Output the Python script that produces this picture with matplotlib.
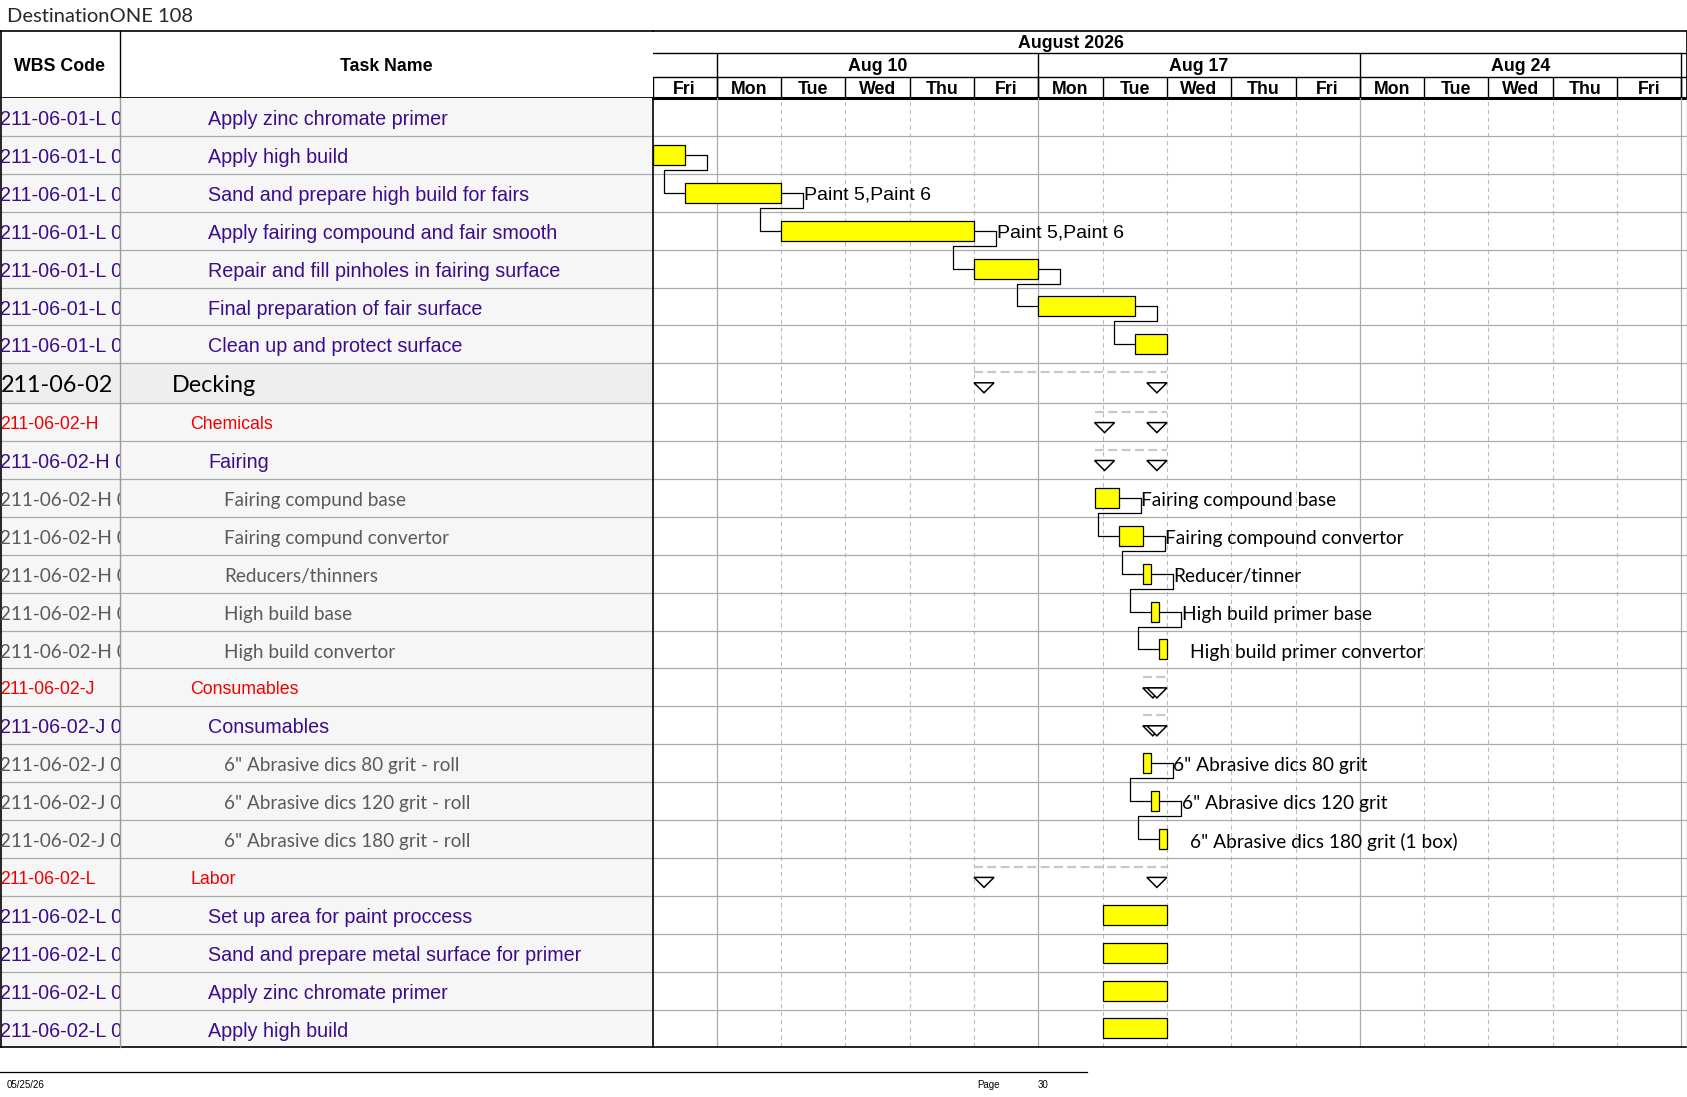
import matplotlib
matplotlib.use("Agg")
import matplotlib.pyplot as plt
from matplotlib.lines import Line2D

# ---- data -------------------------------------------------------------
title = "DestinationONE 108"
month_label = "August 2026"
month_span = (-4, 17)            # working days, Fri Aug 7 = day 0
week_labels = ["Aug 3", "Aug 10", "Aug 17", "Aug 24", "Aug 31"]
week_starts = [-4, 1, 6, 11, 16]
day_labels = ["Fri", "Mon", "Tue", "Wed", "Thu", "Fri", "Mon", "Tue", "Wed",
              "Thu", "Fri", "Mon", "Tue", "Wed", "Thu", "Fri", "Mon"]

wbs_codes = [
    "211-06-01-L 01", "211-06-01-L 02", "211-06-01-L 03", "211-06-01-L 04",
    "211-06-01-L 05", "211-06-01-L 06", "211-06-01-L 07",
    "211-06-02",
    "211-06-02-H", "211-06-02-H 01", "211-06-02-H 01.01", "211-06-02-H 01.02",
    "211-06-02-H 01.03", "211-06-02-H 01.04", "211-06-02-H 01.05",
    "211-06-02-J", "211-06-02-J 01", "211-06-02-J 01.01", "211-06-02-J 01.02",
    "211-06-02-J 01.03",
    "211-06-02-L", "211-06-02-L 01", "211-06-02-L 02", "211-06-02-L 03",
    "211-06-02-L 04",
]
task_names = [
    "Apply zinc chromate primer", "Apply high build",
    "Sand and prepare high build for fairs",
    "Apply fairing compound and fair smooth",
    "Repair and fill pinholes in fairing surface",
    "Final preparation of fair surface", "Clean up and protect surface",
    "Decking",
    "Chemicals", "Fairing", "Fairing compund base", "Fairing compund convertor",
    "Reducers/thinners", "High build base", "High build convertor",
    "Consumables", "Consumables", "6\" Abrasive dics 80 grit - roll",
    "6\" Abrasive dics 120 grit - roll", "6\" Abrasive dics 180 grit - roll",
    "Labor", "Set up area for paint proccess",
    "Sand and prepare metal surface for primer", "Apply zinc chromate primer",
    "Apply high build",
]
row_kind = ["task"] * 7 + ["top", "red", "task"] + ["leaf"] * 5 + \
    ["red", "task"] + ["leaf"] * 3 + ["red"] + ["task"] * 4

# start / finish in working days (None = nothing drawn in this window)
starts = [None, 0.0, 0.5, 2.0, 5.0, 6.0, 7.5,
          5.0, 6.875, 6.875, 6.875, 7.25, 7.625, 7.75, 7.875,
          7.625, 7.625, 7.625, 7.75, 7.875,
          5.0, 7.0, 7.0, 7.0, 7.0]
finishes = [None, 0.5, 2.0, 5.0, 6.0, 7.5, 8.0,
            8.0, 8.0, 8.0, 7.25, 7.625, 7.75, 7.875, 8.0,
            8.0, 8.0, 7.75, 7.875, 8.0,
            8.0, 8.0, 8.0, 8.0, 8.0]
summary_rows = [7, 8, 9, 15, 16, 20]
bar_labels = {
    2: "Paint 5,Paint 6", 3: "Paint 5,Paint 6",
    10: "Fairing compound base", 11: "Fairing compound convertor",
    12: "Reducer/tinner", 13: "High build primer base",
    14: "High build primer convertor",
    17: "6\" Abrasive dics 80 grit", 18: "6\" Abrasive dics 120 grit",
    19: "6\" Abrasive dics 180 grit (1 box)",
}
links = [(1, 2), (2, 3), (3, 4), (4, 5), (5, 6),
         (10, 11), (11, 12), (12, 13), (13, 14),
         (17, 18), (18, 19)]
footer_date = "05/25/26"
footer_page = "30"

# ---- layout (pixels) --------------------------------------------------
W, H = 1687, 1097
HDR_TOP, BODY_TOP = 31, 98
N = len(task_names)
row_h = [39.8 if k == "top" else 37.9 for k in row_kind]
row_top = [sum(row_h[:i]) for i in range(N)]
row_mid = [row_top[i] + row_h[i] / 2 for i in range(N)]
BODY_H = sum(row_h)
BODY_BOT = BODY_TOP + BODY_H
X_WBS, X_SPLIT, X_RIGHT = 120, 652.5, 1686.5
DAY_PX = 64.3
n_days = (X_RIGHT - X_SPLIT) / DAY_PX
TXT_DY = 2.6   # text sits a little below the cell centre

ARIAL = "Liberation Sans"
CALIBRI = "Lato"
PURPLE = "#3D0C8C"
GRID = "#ABABAB"

styles = {
    "task": dict(color=PURPLE, family=ARIAL, size=14.2, indent=208),
    "red": dict(color="#F00000", family=ARIAL, size=12.8, indent=190),
    "leaf": dict(color="#5A5A5A", family=CALIBRI, size=13.6, indent=224),
    "top": dict(color="black", family=CALIBRI, size=16.8, indent=172),
}


def box(x0, y0, x1, y1):
    return [x0 / W, 1 - y1 / H, (x1 - x0) / W, (y1 - y0) / H]


fig = plt.figure(figsize=(W / 100, H / 100), dpi=100)

ax_th = fig.add_axes(box(0, HDR_TOP, X_SPLIT, BODY_TOP))
ax_gh = fig.add_axes(box(X_SPLIT, HDR_TOP, X_RIGHT, BODY_TOP))
ax_wbs = fig.add_axes(box(0, BODY_TOP, X_WBS, BODY_BOT))
ax_task = fig.add_axes(box(X_WBS, BODY_TOP, X_SPLIT, BODY_BOT))
ax_g = fig.add_axes(box(X_SPLIT, BODY_TOP, X_RIGHT, BODY_BOT))

hdr_h = BODY_TOP - HDR_TOP
ax_th.set_xlim(0, X_SPLIT)
ax_th.set_ylim(hdr_h, 0)
ax_gh.set_xlim(0, n_days)
ax_gh.set_ylim(hdr_h, 0)
ax_wbs.set_xlim(0, X_WBS)
ax_task.set_xlim(X_WBS, X_SPLIT)
ax_g.set_xlim(0, n_days)
for a in (ax_wbs, ax_task, ax_g):
    a.set_ylim(BODY_H, 0)
for a in (ax_th, ax_gh, ax_wbs, ax_task, ax_g):
    a.set_axis_off()

# ---- table header -----------------------------------------------------
ax_th.axhline(0, color="black", lw=1.2, clip_on=False)
ax_th.axhline(hdr_h, color="black", lw=2, clip_on=False)
ax_th.axvline(0.5, color="black", lw=1.2, clip_on=False)
ax_th.axvline(X_WBS, color="black", lw=1, clip_on=False)
hdr_font = dict(ha="center", va="center", family=ARIAL, weight="bold",
                fontsize=12.8)
ax_th.text(X_WBS / 2, hdr_h / 2 + 2, "WBS Code", **hdr_font)
ax_th.text((X_WBS + X_SPLIT) / 2, hdr_h / 2 + 2, "Task Name", **hdr_font)

# ---- table body -------------------------------------------------------
line_ys = [row_top[i] for i in range(1, N)]
for i in range(N):
    shade = "#EEEEEE" if row_kind[i] == "top" else "#F6F6F6"
    for a in (ax_wbs, ax_task):
        a.axhspan(row_top[i], row_top[i] + row_h[i], color=shade, lw=0)
    st = styles[row_kind[i]]
    ax_wbs.text(0.5, row_mid[i] + TXT_DY, wbs_codes[i], ha="left",
                va="center", color=st["color"], family=st["family"],
                fontsize=st["size"], clip_on=True)
    ax_task.text(st["indent"], row_mid[i] + TXT_DY, task_names[i], ha="left",
                 va="center", color=st["color"], family=st["family"],
                 fontsize=st["size"], clip_on=True)
for a in (ax_wbs, ax_task):
    a.hlines(line_ys, *a.get_xlim(), color=GRID, lw=0.9)
    a.axhline(BODY_H, color="black", lw=1.2, clip_on=False)
ax_wbs.axvline(0.5, color="black", lw=1.2, clip_on=False)
ax_task.axvline(X_WBS, color="#9A9A9A", lw=1, clip_on=False)

# ---- timescale header -------------------------------------------------
MONTH_B, WEEK_B = 22, 46
ax_gh.axhline(0, color="black", lw=1.2, clip_on=False)
ax_gh.axhline(MONTH_B, color="black", lw=1)
ax_gh.axhline(WEEK_B, color="black", lw=1)
ax_gh.axhline(hdr_h, color="black", lw=2.2, clip_on=False)
ax_gh.axvline(n_days, color="black", lw=1.2, clip_on=False)
ax_gh.text(sum(month_span) / 2, MONTH_B / 2 + 1.5, month_label, **hdr_font)
for lab, ws in zip(week_labels, week_starts):
    ax_gh.vlines(ws, MONTH_B, hdr_h, color="black", lw=1)
    if 0 <= ws + 2.5 <= n_days:
        ax_gh.text(ws + 2.5, (MONTH_B + WEEK_B) / 2 + 1.5, lab, **hdr_font)
for d, lab in enumerate(day_labels):
    ax_gh.vlines(d, WEEK_B, hdr_h, color="black", lw=1)
    if d + 0.5 <= n_days:
        ax_gh.text(d + 0.5, (WEEK_B + hdr_h) / 2 + 2, lab, **hdr_font)

# ---- gantt grid -------------------------------------------------------
for d in range(1, len(day_labels)):
    if d in week_starts:
        ax_g.axvline(d, color=GRID, lw=0.9)
    else:
        ax_g.axvline(d, color="#BDBDBD", lw=0.8, ls=(0, (4, 3)))
ax_g.hlines(line_ys, 0, n_days, color=GRID, lw=0.9)
ax_g.axhline(BODY_H, color="black", lw=1.2, clip_on=False)
ax_g.axvline(0, color="black", lw=1.2, clip_on=False)
ax_g.axvline(n_days, color=GRID, lw=1, clip_on=False)

# ---- bars, summaries, links -------------------------------------------
bar_h = 20
ext = 22 / DAY_PX
back = 21 / DAY_PX
drop = 4
tri_w = 20 / DAY_PX

task_rows = [i for i in range(N) if starts[i] is not None and i not in summary_rows]
ax_g.barh([row_mid[i] for i in task_rows],
          [finishes[i] - starts[i] for i in task_rows],
          left=[starts[i] for i in task_rows], height=bar_h,
          color="#FFFF00", edgecolor="black", lw=0.9, zorder=3)

for a, b in links:
    y_low = row_top[a] + row_h[a] - drop
    xs = [finishes[a], finishes[a] + ext, finishes[a] + ext,
          starts[b] - back, starts[b] - back, starts[b]]
    ys = [row_mid[a], row_mid[a], y_low, y_low, row_mid[b], row_mid[b]]
    ax_g.plot(xs, ys, color="black", lw=0.9, zorder=2)

for i, lab in bar_labels.items():
    fam = ARIAL if lab.startswith("Paint") else CALIBRI
    ax_g.text(finishes[i] + ext + 0.01, row_mid[i] + TXT_DY, lab, ha="left",
              va="center", family=fam, fontsize=14 if fam == ARIAL else 13.8,
              color="black", zorder=4)

for i in summary_rows:
    s, f = starts[i], finishes[i]
    t0 = row_top[i]
    ax_g.plot([s, f], [t0 + 8.7] * 2, color="#C8C8C8", lw=1.6,
              ls=(0, (4, 2)), zorder=2)
    for x0 in (s, f - tri_w):
        ax_g.fill([x0, x0 + tri_w, x0 + tri_w / 2],
                  [t0 + 19.5, t0 + 19.5, t0 + 29.5],
                  facecolor="white", edgecolor="black", lw=1.1, zorder=4)

# ---- title and footer -------------------------------------------------
fig.text(7 / W, 1 - 16 / H, title, ha="left", va="center", family=CALIBRI,
         fontsize=14.5, color="#262626")
fig.add_artist(Line2D([0, 1087 / W], [1 - 1071.5 / H] * 2, color="black",
                      lw=0.9))
small = dict(family=["Liberation Sans Narrow", ARIAL], fontsize=7,
             va="center", ha="left")
fig.text(7 / W, 1 - 1085 / H, footer_date, **small)
fig.text(977 / W, 1 - 1085 / H, "Page", **small)
fig.text(1038 / W, 1 - 1085 / H, footer_page, **small)

fig.savefig("out.png", dpi=100, facecolor="white")
